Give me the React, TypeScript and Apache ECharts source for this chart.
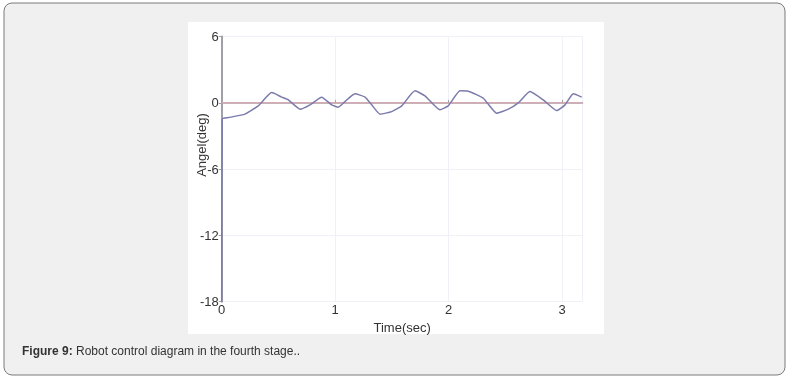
import React, { useEffect, useRef } from "react";
import * as echarts from "echarts";

const timeSec: number[] = [
  0, 0.005, 0.058, 0.205, 0.322, 0.44, 0.529, 0.587, 0.69, 0.778, 0.881, 0.969,
  1.027, 1.086, 1.174, 1.263, 1.322, 1.395, 1.498, 1.586, 1.703, 1.791, 1.923,
  1.996, 2.1, 2.173, 2.305, 2.423, 2.525, 2.613, 2.716, 2.833, 2.952, 3.025,
  3.098, 3.172,
];
const angleDeg: number[] = [
  -18, -1.45, -1.33, -1.02, -0.27, 0.93, 0.52, 0.27, -0.57, -0.18, 0.52, -0.18,
  -0.39, 0.12, 0.82, 0.52, -0.18, -1.02, -0.79, -0.27, 1.09, 0.63, -0.63,
  -0.27, 1.09, 1.06, 0.42, -0.94, -0.57, 0, 1.03, 0.27, -0.7, -0.18, 0.82,
  0.52,
];
const xTicks: number[] = [0, 1, 2, 3];
const yTicks: number[] = [-18, -12, -6, 0, 6];
const referenceLevel = 0;
const xMax = 3.18;

const FONT = "'Liberation Sans', Arial, sans-serif";

export default function App() {
  const ref = useRef<HTMLDivElement>(null);
  useEffect(() => {
    if (!ref.current) return;
    const chart = echarts.init(ref.current, undefined, { renderer: "svg" });
    const data = timeSec.map((t, i) => [t, angleDeg[i]]);
    chart.setOption({
      animation: false,
      backgroundColor: "transparent",
      graphic: [
        {
          type: "rect",
          z: -10,
          shape: { x: 4, y: 3, width: 781, height: 372, r: 8 },
          style: { fill: "#f0f0f0", stroke: "#7a7a7a", lineWidth: 1 },
        },
        {
          type: "rect",
          z: -9,
          shape: { x: 188, y: 22, width: 416, height: 312 },
          style: { fill: "#ffffff" },
        },
        {
          type: "text",
          x: 201,
          y: 145,
          rotation: Math.PI / 2,
          style: {
            text: "Angel(deg)",
            font: `13px ${FONT}`,
            fill: "#333333",
            align: "center",
            verticalAlign: "middle",
          },
        },
      ],
      title: {
        left: 22,
        top: 345,
        padding: 0,
        text: "{b|Figure 9:} Robot control diagram in the fourth stage..",
        textStyle: {
          fontSize: 12,
          fontFamily: FONT,
          fontWeight: "normal",
          color: "#333333",
          rich: {
            b: { fontSize: 12, fontFamily: FONT, fontWeight: "bold", color: "#333333" },
          },
        },
      },
      grid: { left: 221.7, right: 209.4, top: 36.6, bottom: 77.3 },
      xAxis: {
        type: "value",
        min: 0,
        max: xMax,
        interval: 1,
        name: "Time(sec)",
        nameLocation: "middle",
        nameGap: 15,
        nameTextStyle: { fontSize: 13, fontFamily: FONT, color: "#333333" },
        axisLine: { show: true, lineStyle: { color: "#a9a9b8", width: 1.5 } },
        axisTick: { show: true, length: 3, inside: true, lineStyle: { color: "#a0a0a0" } },
        axisLabel: {
          fontSize: 13,
          fontFamily: FONT,
          color: "#333333",
          margin: 1,
          showMaxLabel: false,
          formatter: (v: number) => (xTicks.includes(v) ? String(v) : ""),
        },
        splitLine: { show: true, lineStyle: { color: "#f0f1f6", width: 1 } },
      },
      yAxis: {
        type: "value",
        min: -18,
        max: 6,
        interval: 6,
        axisLine: { show: true, onZero: false, lineStyle: { color: "#a0a0a8", width: 2 } },
        axisTick: { show: true, length: 3, lineStyle: { color: "#a0a0a0" } },
        axisLabel: {
          fontSize: 13,
          fontFamily: FONT,
          color: "#333333",
          margin: 3,
          formatter: (v: number) => (yTicks.includes(v) ? String(v) : ""),
        },
        splitLine: { show: true, lineStyle: { color: "#f0f1f6", width: 1 } },
      },
      series: [
        {
          type: "line",
          data: [
            [0, referenceLevel],
            [xMax, referenceLevel],
          ],
          showSymbol: false,
          symbol: "none",
          lineStyle: { color: "#e2a2a2", width: 1 },
          z: 2,
        },
        {
          type: "line",
          data,
          showSymbol: false,
          symbol: "none",
          smooth: 0.15,
          lineStyle: { color: "#7b7bac", width: 1.5 },
          z: 3,
        },
      ],
    });
    return () => chart.dispose();
  }, []);
  return (
    <div
      ref={ref}
      style={{ position: "fixed", left: 0, top: 0, width: 792, height: 379 }}
    />
  );
}
